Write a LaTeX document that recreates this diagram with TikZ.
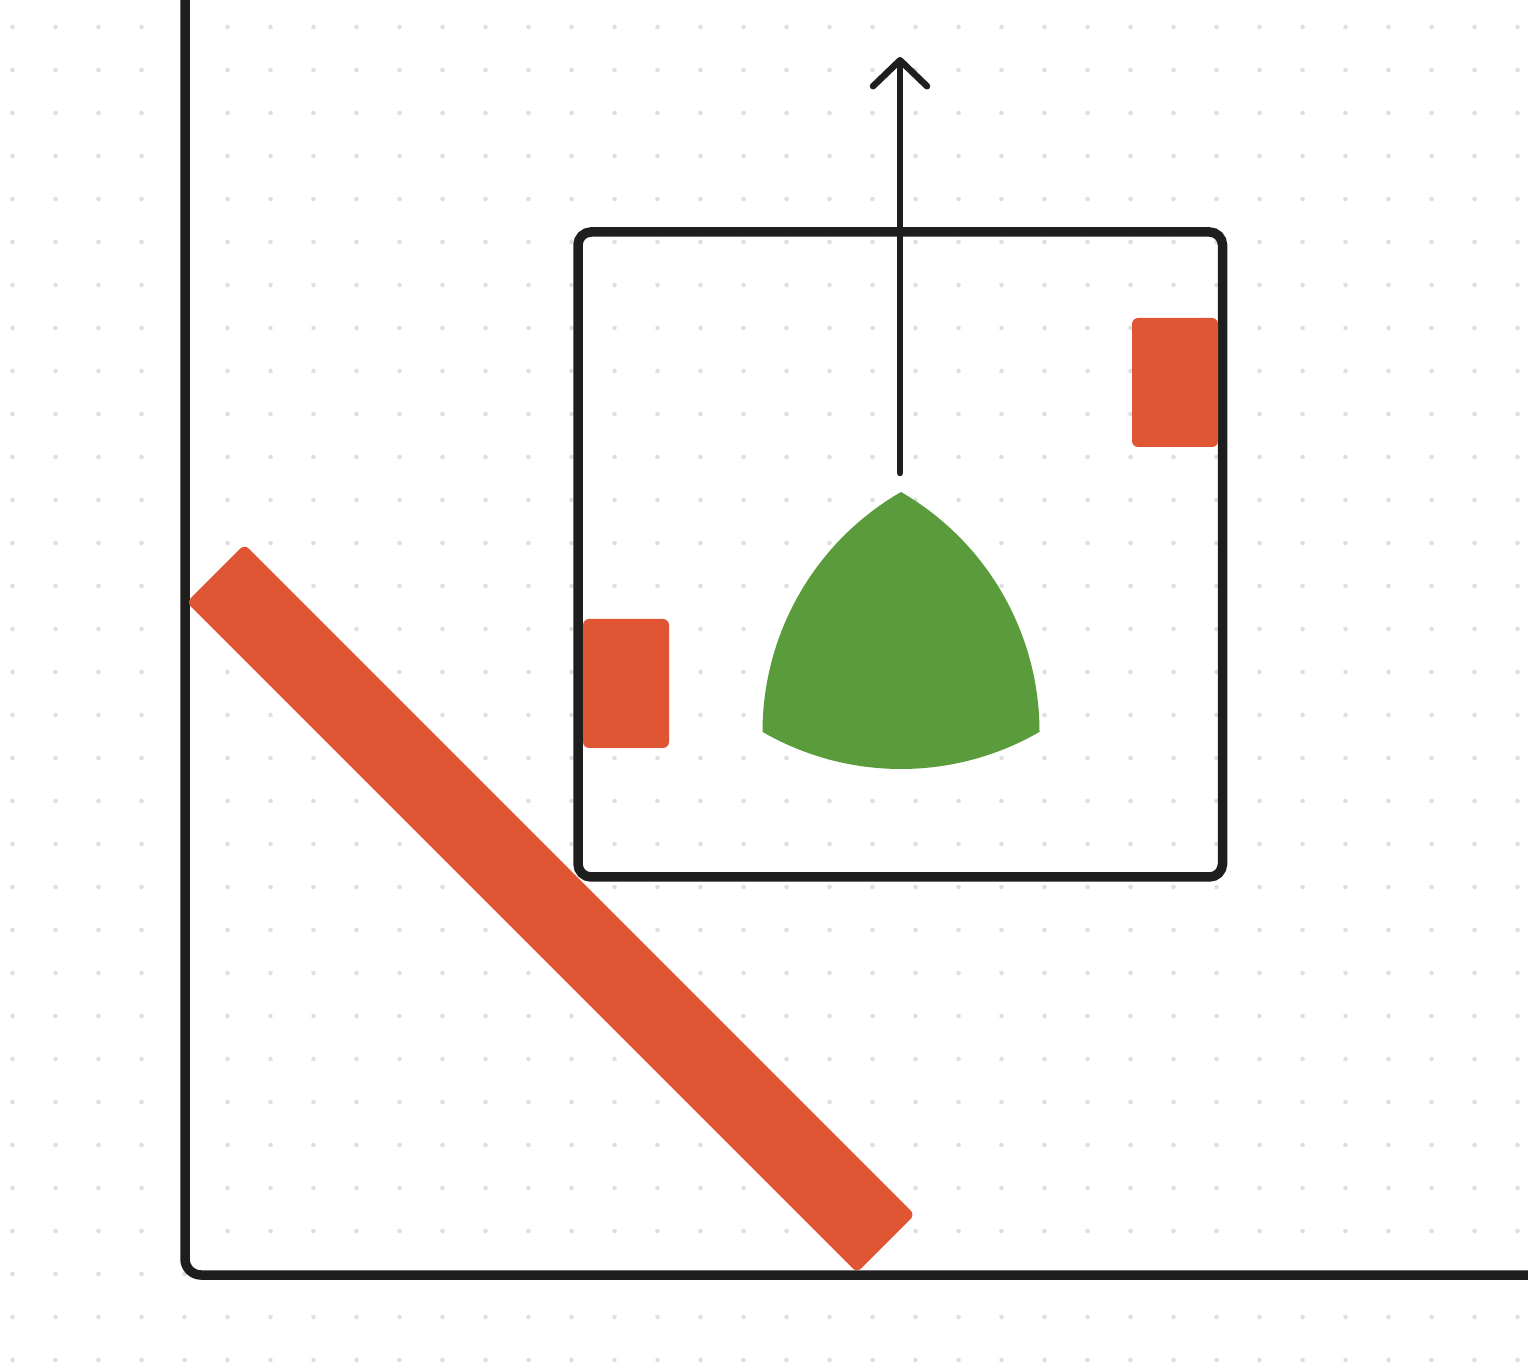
\documentclass[tikz,border=0pt]{standalone}
\usetikzlibrary{arrows.meta}
\definecolor{ink}{HTML}{1E1E1E}
\definecolor{redc}{HTML}{E05634}
\definecolor{greenc}{HTML}{5A9B3C}
\definecolor{dotc}{HTML}{DFDFDF}
\begin{document}
\begin{tikzpicture}[x=1pt,y=1pt,
  redbox/.style={fill=redc, draw=none, rounded corners=6pt, inner sep=0pt, minimum width=86pt, minimum height=129pt},
  frame/.style={draw=ink, line width=9.5pt, rounded corners=13pt, inner sep=0pt},
  axisline/.style={draw=ink, line width=9.5pt, rounded corners=16pt},
  arrowline/.style={draw=ink, line width=6.5pt, line cap=round, -{Straight Barb[length=26pt,width=54pt,round]}},
  ]
\useasboundingbox (0,0) rectangle (1528,1366);
\fill[white] (0,0) rectangle (1528,1366);
\clip (0,0) rectangle (1528,1366);
% dotted grid
\foreach \i in {0,...,35} \foreach \j in {0,...,31} \fill[dotc] ({12.5+43*\i},{1339-43*\j}) circle (2.3pt);
% axes
\coordinate (ytop) at (185,1380);
\coordinate (origin) at (185,91);
\coordinate (xend) at (1545,91);
\draw[axisline] (ytop) -- (origin) -- (xend);
% frame box
\node[frame, minimum width=644.5pt, minimum height=645pt] (box) at (900.25,811.5) {};
% small red blocks
\node[redbox] (rright) at (1175,983.5) {};
\node[redbox] (rleft) at (626,682.5) {};
% diagonal bar
\node[fill=redc, rounded corners=6pt, rotate=-45, minimum width=948pt, minimum height=82pt, inner sep=0pt] (bar) at (550.75,457.5) {};
% Reuleaux triangle
\fill[greenc] (901,874) arc[start angle=120, end angle=180, radius=277]
  arc[start angle=240, end angle=300, radius=277]
  arc[start angle=0, end angle=60, radius=277] -- cycle;
% arrow
\coordinate (astart) at (900,893);
\coordinate (aend) at (900,1309);
\draw[arrowline] (astart) -- (aend);
\end{tikzpicture}
\end{document}
